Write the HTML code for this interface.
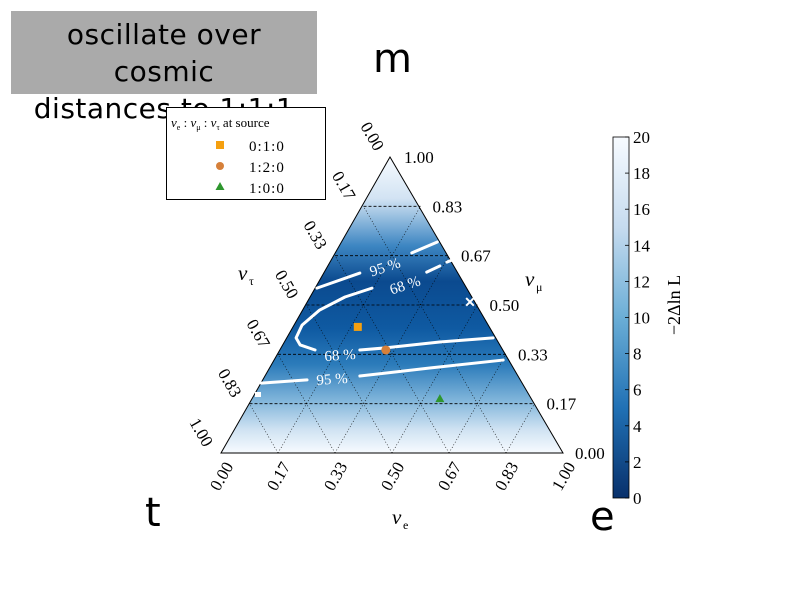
<!DOCTYPE html>
<html><head><meta charset="utf-8"><style>
body{margin:0;background:#fff;width:799px;height:600px;overflow:hidden;position:relative;font-family:"DejaVu Sans","Liberation Sans",sans-serif}
#ttl{position:absolute;left:11px;top:11px;width:306px;height:83px;background:#aaaaaa}
#ttxt{position:absolute;left:-20px;top:16px;width:368px;text-align:center;font-size:28px;line-height:37px;color:#000;white-space:nowrap;letter-spacing:0.5px}
.big{position:absolute;font-size:40px;color:#000}
svg{position:absolute;left:0;top:0}
</style></head><body>
<div id="ttl"></div>
<div id="ttxt">oscillate over<br>cosmic<br>distances to 1:1:1</div>
<div class="big" style="left:373px;top:36px">m</div>
<div class="big" style="left:145px;top:490px">t</div>
<div class="big" style="left:590px;top:494px">e</div>
<svg id="chart" width="799" height="600" font-family="Liberation Serif, serif">
<defs>
<linearGradient id="bg" x1="0" y1="0" x2="0" y2="1">
<stop offset="0" stop-color="#f7fbff"/><stop offset="0.14" stop-color="#d2e3f3"/>
<stop offset="0.3" stop-color="#3d86c2"/><stop offset="0.42" stop-color="#0b4a8f"/>
<stop offset="0.58" stop-color="#0f5aa2"/><stop offset="0.7" stop-color="#2b7bba"/>
<stop offset="0.82" stop-color="#7fb4da"/><stop offset="0.92" stop-color="#cfe2f2"/><stop offset="1" stop-color="#f7fbff"/></linearGradient>
<linearGradient id="cb" x1="0" y1="1" x2="0" y2="0">
<stop offset="0" stop-color="#08306b"/><stop offset="0.25" stop-color="#2171b5"/>
<stop offset="0.5" stop-color="#6baed6"/><stop offset="0.75" stop-color="#c6dbef"/><stop offset="1" stop-color="#f7fbff"/></linearGradient>
</defs>
<g id="g"></g>
</svg>
<script>
const ticks=["0.00","0.17","0.33","0.50","0.67","0.83","1.00"];
const cbTicks=[0,2,4,6,8,10,12,14,16,18,20];
// contour points [nu_e, nu_mu]
const c68a=[[0.601,0.389],[0.452,0.375],[0.303,0.355],[0.232,0.348]];
const c68b=[[0.101,0.348],[0.049,0.365],[0.025,0.389],[0.021,0.432],[0.047,0.483],[0.099,0.527],[0.163,0.557]];
const c68c=[[0.296,0.611],[0.324,0.632]];
const c68d=[[0.338,0.645],[0.361,0.659]];
const c95a=[[0.002,0.557],[0.102,0.608]];
const c95b=[[0.220,0.676],[0.276,0.713]];
const c95c=[[0.0,0.236],[0.128,0.247]];
const c95d=[[0.276,0.260],[0.467,0.287],[0.668,0.314]];
const markerE=[0.187,0.308,0.549], markerMu=[0.426,0.348,0.182];
const markerLabels=["0:1:0","1:2:0","1:0:0"];
const X0=221,Y0=453,W=342,H=296;
function px(e,m){return X0+(e+m/2)*W}
function py(m){return Y0-m*H}
const NS="http://www.w3.org/2000/svg",g=document.getElementById('g');
function mk(t,a,txt){const el=document.createElementNS(NS,t);for(const k in a)el.setAttribute(k,a[k]);if(txt!=null)el.textContent=txt;g.appendChild(el);return el}
let el=mk('polygon',{points:`390,157 221,453 563,453`,fill:'url(#bg)'});


for(let i=1;i<6;i++){const f=i/6;
 el=mk('line',{x1:px(0,f),y1:py(f),x2:px(1-f,f),y2:py(f),stroke:'#000','stroke-width':0.8,'stroke-dasharray':'3,2'});
 
 
 el=mk('line',{x1:px(f,0),y1:py(0),x2:px(f,1-f),y2:py(1-f),stroke:'#000','stroke-width':0.6,'stroke-dasharray':'1,2'});
 
 
 el=mk('line',{x1:px(f,0),y1:py(0),x2:px(0,f),y2:py(f),stroke:'#000','stroke-width':0.6,'stroke-dasharray':'1,2'});
 
 }
el=mk('polygon',{points:`390,157 221,453 563,453`,fill:'none',stroke:'#000','stroke-width':1});


[c68a,c68b,c68c,c68d,c95a,c95b,c95c,c95d].forEach(c=>{
 el=mk('polyline',{points:c.map(p=>px(p[0],p[1])+','+py(p[1])).join(' '),fill:'none',stroke:'#fff','stroke-width':3,'stroke-linecap':'round','stroke-linejoin':'round'});
 
 });
[[340,360,-4,'68 %'],[405,290,-18,'68 %'],[385,272,-18,'95 %'],[332,384,-4,'95 %']].forEach(l=>{
 el=mk('text',{x:l[0],y:l[1],fill:'#fff','font-size':15,'text-anchor':'middle',transform:`rotate(${l[2]} ${l[0]} ${l[1]-5})`},l[3]);
 
 });
el=mk('text',{x:470,y:307,fill:'#fff','font-size':14,'text-anchor':'middle','font-weight':'bold'},'✕');


el=mk('rect',{x:255,y:392,width:6,height:5,fill:'#fff'});


const mcol=['#f5a00f','#d6803a','#2e962e'];
for(let i=0;i<3;i++){const x=px(markerE[i],markerMu[i]),y=py(markerMu[i]);
 if(i==0)el=mk('rect',{x:x-4,y:y-4,width:8,height:8,fill:mcol[0]});
 else if(i==1)el=mk('circle',{cx:x,cy:y,r:4.5,fill:mcol[1]});
 else el=mk('polygon',{points:`${x},${y-5} ${x-4.5},${y+3} ${x+4.5},${y+3}`,fill:mcol[2]});
 
 }
ticks.forEach((t,i)=>{const f=i/6;
 el=mk('text',{x:px(1-f,f)+12,y:py(f)+6,'font-size':17},t);
 
 
 let x=px(f,0)+4,y=py(0)+8;
 el=mk('text',{x:x,y:y,'font-size':17,'text-anchor':'end',transform:`rotate(-60 ${x} ${y})`,dy:'0.6em'},t);
 
 
 x=px(0,1-f)-12;y=py(1-f)-8;
 el=mk('text',{x:x,y:y,'font-size':17,'text-anchor':'end',transform:`rotate(60 ${x} ${y})`,dy:'0.35em'},t);
 
 });
[[392,524,'ν','e','nu-e-axis-title'],[238,280,'ν','τ','nu-tau-axis-title'],[525,286,'ν','μ','nu-mu-axis-title']].forEach(a=>{
 el=mk('text',{x:a[0],y:a[1],'font-size':21,'font-style':'italic'},a[2]);
 
 
 mk('text',{x:a[0]+11,y:a[1]+5,'font-size':12},a[3]);});
// legend
el=mk('rect',{x:166.5,y:107.5,width:159,height:92,fill:'#fff',stroke:'#000','stroke-width':1});


el=mk('text',{x:171,y:127,'font-size':13});
el.innerHTML='<tspan font-style="italic">ν</tspan><tspan font-size="8" dy="3">e</tspan><tspan dy="-3"> : </tspan><tspan font-style="italic">ν</tspan><tspan font-size="8" dy="3">μ</tspan><tspan dy="-3"> : </tspan><tspan font-style="italic">ν</tspan><tspan font-size="8" dy="3">τ</tspan><tspan dy="-3"> at source</tspan>';


for(let i=0;i<3;i++){const y=151+i*21;
 if(i==0)el=mk('rect',{x:216,y:y-10,width:8,height:8,fill:mcol[0]});
 else if(i==1)el=mk('circle',{cx:220,cy:y-6,r:4,fill:mcol[1]});
 else el=mk('polygon',{points:`220,${y-11} 215.5,${y-3} 224.5,${y-3}`,fill:mcol[2]});
 
 
 el=mk('text',{x:249,y:y,'font-size':15,'letter-spacing':'1'},markerLabels[i]);
 
 }
// colorbar
const CT=137,CB=498;
el=mk('rect',{x:613,y:CT,width:16,height:CB-CT,fill:'url(#cb)',stroke:'#000','stroke-width':0.8});


cbTicks.forEach(v=>{const y=CB-(v/20)*(CB-CT);
 mk('line',{x1:625,x2:629,y1:y,y2:y,stroke:'#000','stroke-width':0.8});
 el=mk('text',{x:633,y:y+6,'font-size':17},String(v));
 
 });
el=mk('text',{x:680,y:305,'font-size':18,'text-anchor':'middle',transform:'rotate(-90 680 305)'},'−2Δln L');


</script>
</body></html>
